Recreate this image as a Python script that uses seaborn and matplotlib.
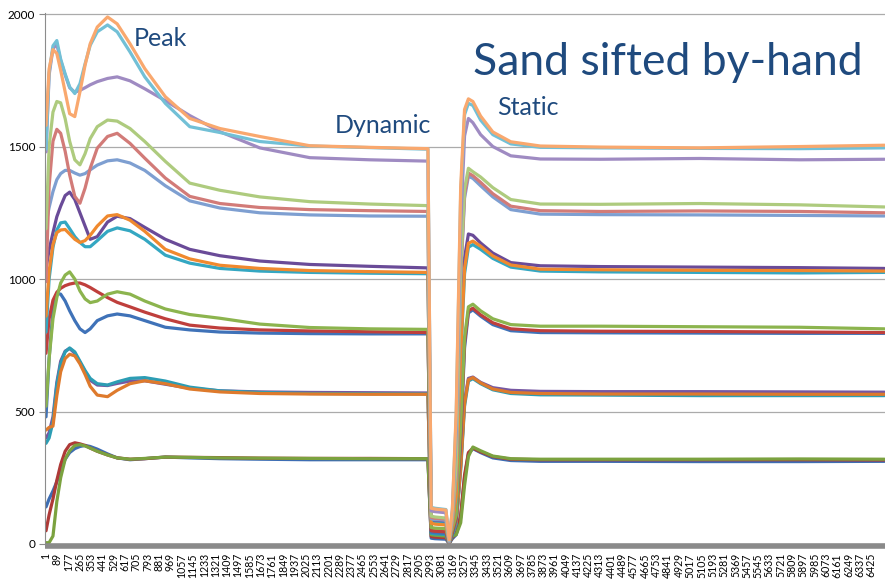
import matplotlib
matplotlib.use("Agg")
import matplotlib.pyplot as plt
import pandas as pd
import seaborn as sns

# Sample index at which each reading was taken
sample_idx = [1, 25, 55, 85, 115, 150, 185, 225, 265, 305, 345, 400, 480, 555, 655, 770,
              930, 1120, 1355, 1665, 2055, 2520, 2975, 3000, 3030, 3115, 3140, 3165, 3195,
              3230, 3260, 3290, 3325, 3385, 3480, 3620, 3850, 4320, 5090, 5870, 6530]

# Force readings, lowest load group first
f_blue = [140, 170, 200, 235, 275, 320, 345, 360, 368, 372, 368, 358, 340, 325, 318, 322, 328, 325, 322, 320, 318, 318, 318,
          22, 20, 18, 2, 20, 35, 100, 250, 340, 360, 345, 325, 315, 312, 312, 311, 311, 312]
f_red = [50, 110, 170, 240, 300, 350, 375, 382, 378, 372, 362, 350, 336, 325, 320, 322, 328, 327, 326, 324, 323, 323, 322,
         28, 26, 24, 2, 25, 40, 110, 260, 345, 362, 348, 330, 320, 318, 318, 318, 318, 317]
f_green = [5, 5, 30, 160, 250, 320, 352, 372, 375, 370, 362, 350, 336, 325, 320, 323, 328, 327, 325, 324, 323, 322, 322,
           35, 33, 30, 2, 30, 35, 80, 220, 330, 366, 352, 332, 322, 320, 320, 320, 321, 320]

e_purple = [400, 420, 480, 610, 690, 728, 738, 720, 686, 650, 618, 600, 598, 606, 615, 616, 603, 588, 578, 574, 572, 571, 570,
            45, 44, 42, 4, 40, 80, 300, 540, 625, 630, 610, 590, 580, 576, 575, 575, 574, 573]
e_cyan = [380, 400, 460, 600, 680, 725, 740, 725, 690, 655, 625, 605, 600, 612, 625, 628, 615, 592, 578, 572, 568, 567, 566,
          40, 38, 36, 3, 35, 75, 280, 520, 615, 624, 605, 582, 568, 563, 562, 560, 560, 560]
e_orange = [430, 440, 445, 560, 650, 700, 716, 710, 680, 640, 595, 562, 556, 580, 605, 616, 605, 585, 574, 568, 566, 565, 565,
            52, 50, 48, 4, 45, 85, 290, 530, 620, 628, 608, 585, 572, 568, 566, 566, 565, 565]

d_blue = [480, 700, 880, 945, 943, 917, 880, 843, 812, 798, 812, 843, 861, 868, 861, 843, 818, 808, 800, 796, 794, 793, 793,
          45, 43, 40, 4, 40, 95, 400, 740, 872, 884, 860, 828, 805, 798, 797, 796, 795, 795]
d_red = [720, 850, 920, 950, 965, 975, 981, 985, 985, 978, 968, 952, 930, 912, 895, 875, 850, 826, 815, 808, 804, 801, 798,
         50, 48, 46, 4, 45, 100, 420, 760, 880, 890, 865, 835, 812, 805, 803, 802, 800, 798]
d_green = [520, 700, 850, 930, 985, 1015, 1027, 1000, 955, 925, 911, 917, 943, 952, 943, 917, 887, 866, 852, 830, 817, 812, 810,
           62, 60, 58, 5, 55, 110, 450, 780, 895, 905, 880, 850, 828, 822, 822, 820, 818, 812]

c_purple = [1040, 1110, 1175, 1235, 1275, 1315, 1328, 1300, 1250, 1200, 1150, 1160, 1215, 1237, 1228, 1195, 1150, 1112, 1088, 1068, 1055, 1048, 1042,
            85, 82, 80, 6, 80, 220, 800, 1080, 1170, 1165, 1136, 1098, 1062, 1050, 1047, 1045, 1043, 1040]
c_cyan = [800, 1000, 1120, 1185, 1212, 1215, 1190, 1160, 1138, 1122, 1122, 1145, 1180, 1193, 1182, 1150, 1090, 1060, 1040, 1030, 1025, 1022, 1020,
          80, 78, 75, 6, 75, 170, 700, 1020, 1120, 1130, 1112, 1078, 1045, 1030, 1027, 1025, 1023, 1025]
c_orange = [860, 1030, 1130, 1175, 1185, 1187, 1170, 1150, 1138, 1145, 1165, 1200, 1238, 1243, 1222, 1180, 1112, 1076, 1052, 1040, 1032, 1028, 1025,
            78, 75, 72, 6, 70, 180, 720, 1040, 1135, 1143, 1124, 1087, 1053, 1037, 1035, 1033, 1032, 1030]

b_blue = [1210, 1270, 1330, 1375, 1398, 1410, 1410, 1400, 1392, 1398, 1412, 1430, 1446, 1450, 1438, 1410, 1352, 1295, 1268, 1250, 1242, 1238, 1237,
          95, 92, 90, 8, 90, 260, 1000, 1305, 1388, 1380, 1352, 1310, 1262, 1245, 1243, 1242, 1240, 1238]
b_red = [990, 1350, 1520, 1565, 1550, 1482, 1393, 1312, 1286, 1343, 1418, 1494, 1538, 1550, 1512, 1456, 1381, 1312, 1285, 1270, 1262, 1258, 1255,
         100, 97, 94, 8, 95, 280, 1020, 1320, 1400, 1390, 1365, 1322, 1275, 1258, 1255, 1257, 1255, 1250]
b_green = [1190, 1500, 1630, 1670, 1665, 1605, 1520, 1450, 1431, 1473, 1530, 1575, 1600, 1596, 1568, 1519, 1444, 1362, 1335, 1310, 1292, 1283, 1277,
           105, 102, 98, 10, 100, 300, 1050, 1340, 1418, 1405, 1385, 1345, 1300, 1283, 1282, 1285, 1280, 1272]

a_purple = [1480, 1770, 1870, 1885, 1825, 1770, 1722, 1705, 1712, 1722, 1733, 1745, 1757, 1763, 1748, 1718, 1673, 1617, 1556, 1495, 1458, 1450, 1445,
            125, 122, 118, 10, 118, 420, 1200, 1540, 1606, 1590, 1545, 1500, 1465, 1453, 1452, 1455, 1450, 1452]
a_cyan = [1490, 1780, 1880, 1900, 1830, 1774, 1725, 1700, 1737, 1812, 1882, 1933, 1959, 1933, 1857, 1763, 1663, 1575, 1553, 1519, 1502, 1496, 1490,
          138, 135, 130, 12, 128, 480, 1320, 1620, 1663, 1655, 1600, 1545, 1510, 1497, 1495, 1493, 1492, 1495]
a_orange = [1580, 1793, 1866, 1851, 1788, 1706, 1624, 1613, 1706, 1807, 1888, 1951, 1989, 1963, 1888, 1794, 1688, 1606, 1568, 1538, 1503, 1497, 1492,
            135, 132, 128, 15, 130, 500, 1350, 1640, 1680, 1670, 1615, 1555, 1518, 1502, 1498, 1495, 1500, 1505]

series_values = {
    "s01": f_blue, "s02": f_red, "s03": f_green,
    "s04": e_purple, "s05": e_cyan, "s06": e_orange,
    "s07": d_blue, "s08": d_red, "s09": d_green,
    "s10": c_purple, "s11": c_cyan, "s12": c_orange,
    "s13": b_blue, "s14": b_red, "s15": b_green,
    "s16": a_purple, "s17": a_cyan, "s18": a_orange,
}
series_colors = {
    "s01": "#3D6DB3", "s02": "#AE3A37", "s03": "#7BA23F",
    "s04": "#7657A2", "s05": "#2C9DB4", "s06": "#DE7A2C",
    "s07": "#3F72B8", "s08": "#BF3F3C", "s09": "#8CB44E",
    "s10": "#6A4B98", "s11": "#34A7C2", "s12": "#F0892E",
    "s13": "#7E9FD1", "s14": "#D27B78", "s15": "#AECB7E",
    "s16": "#9F8BC2", "s17": "#72C0D6", "s18": "#F9A86E",
}

x_tick_pos = list(range(1, 6426, 88))
y_ticks = [0, 500, 1000, 1500, 2000]

df = pd.concat(
    [pd.DataFrame({"sample": sample_idx, "force": vals, "series": name})
     for name, vals in series_values.items()],
    ignore_index=True,
)

sns.set_style("white")
plt.rcParams["font.family"] = ["Lato", "DejaVu Sans"]

fig = plt.figure(figsize=(8.85, 5.87), dpi=100)
ax = fig.add_axes([45 / 885, 43 / 587, 840 / 885, 531 / 587])

# Spines first: moving a spine resets the tick label styling
for side in ("top", "right"):
    ax.spines[side].set_visible(False)
ax.spines["bottom"].set_position(("outward", 1.5))
ax.spines["left"].set_color("#8C8C8C")
ax.spines["left"].set_linewidth(0.8)
ax.spines["bottom"].set_color("#8A8A8A")
ax.spines["bottom"].set_linewidth(4.0)
ax.spines["bottom"].set_capstyle("butt")

sns.lineplot(data=df, x="sample", y="force", hue="series",
             hue_order=list(series_values.keys()), palette=series_colors,
             linewidth=2.3, legend=False, sort=False, estimator=None, ax=ax)
for line in ax.get_lines():
    line.set_solid_joinstyle("round")
    line.set_solid_capstyle("round")

ax.set_xlim(-7, 6534)
ax.set_ylim(0, 2004)
ax.set_xlabel("")
ax.set_ylabel("")

ax.set_yticks(y_ticks)
ax.set_yticklabels([str(v) for v in y_ticks], fontsize=8.5, color="black")
ax.set_xticks(x_tick_pos)
ax.set_xticklabels([str(v) for v in x_tick_pos], rotation=90, fontsize=7.6,
                   color="black")
ax.tick_params(axis="x", length=0, pad=5)
ax.tick_params(axis="y", length=4, width=0.8, color="#8C8C8C", pad=3, left=True)

ax.grid(axis="y", color="#ABABAB", linewidth=0.9)
ax.grid(axis="x", visible=False)
ax.set_axisbelow(True)

txt_color = "#1F4A7E"
ax.text(686, 1879, "Peak", fontsize=18, color=txt_color, ha="left", va="baseline")
ax.text(2252, 1553, "Dynamic", fontsize=18, color=txt_color, ha="left", va="baseline")
ax.text(3513, 1620, "Static", fontsize=18, color=txt_color, ha="left", va="baseline")
ax.text(3326, 1770, "Sand sifted by-hand", fontsize=32, color=txt_color,
        ha="left", va="baseline")

fig.savefig("out.png", dpi=100)
